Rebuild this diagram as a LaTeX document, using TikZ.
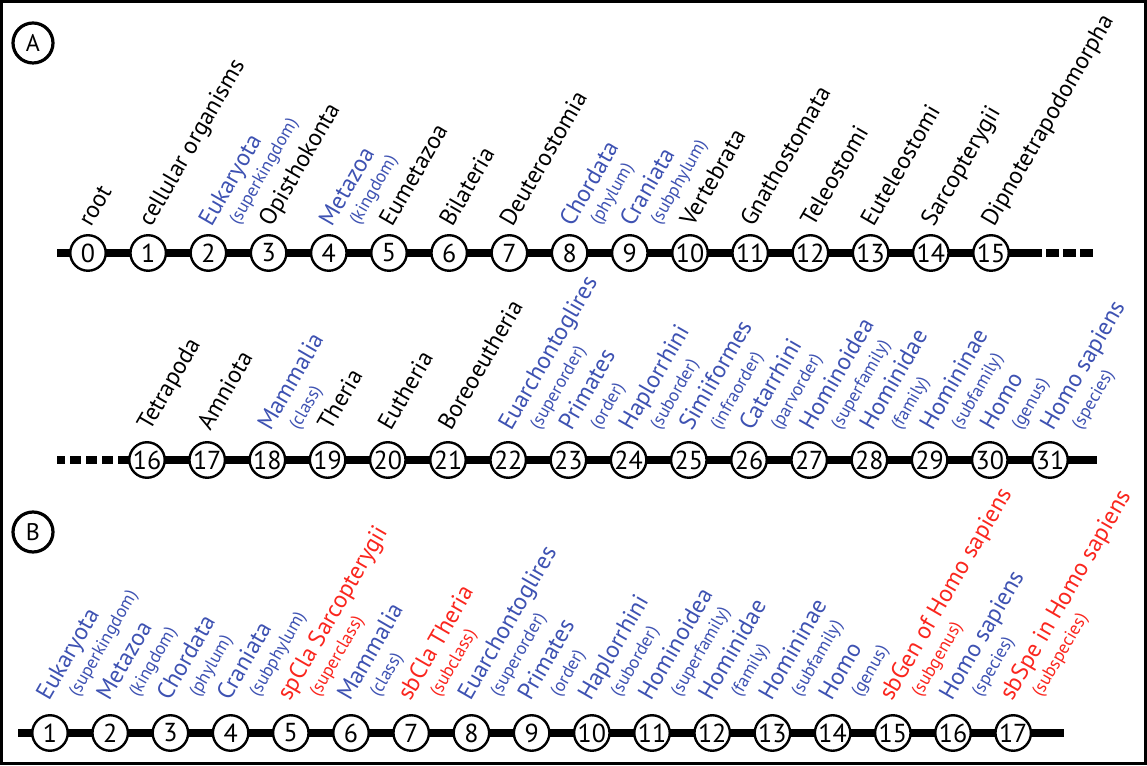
\documentclass[tikz,border=0pt]{standalone}
\usepackage{fontspec}
\setmainfont{PT Sans}
\usetikzlibrary{positioning}
\usepackage{xcolor}
\definecolor{taxblue}{RGB}{62,82,178}
\definecolor{newred}{RGB}{250,38,30}

\begin{document}
\begin{tikzpicture}[x=1pt, y=1pt, node distance=24.7pt,
  num/.style={draw, circle, line width=2.4pt, fill=white, minimum size=35.5pt, inner sep=0pt, outer sep=0pt, font=\fontsize{26pt}{26pt}\selectfont},
  panel/.style={draw, circle, line width=3.2pt, minimum size=40pt, inner sep=0pt, font=\fontsize{24pt}{24pt}\selectfont},
  lab/.style={anchor=base west, rotate=60, inner sep=0pt, font=\fontsize{24pt}{26pt}\selectfont},
  rank/.style={anchor=base west, rotate=60, inner sep=0pt, font=\fontsize{18pt}{20pt}\selectfont},
  labA/.style={xshift=3pt, yshift=25pt, lab}, rankA/.style={xshift=30pt, yshift=27pt, rank},
  labB/.style={xshift=3pt, yshift=28pt, lab}, rankB/.style={xshift=31pt, yshift=29pt, rank},
  labC/.style={xshift=-1pt, yshift=31pt, lab}, rankC/.style={xshift=28pt, yshift=35pt, rank},
  bar/.style={line width=8pt}]
\useasboundingbox (0,0) rectangle (1147,765);
\draw[line width=3pt] (1.5,1.5) rectangle (1145.5,763.5);

% panel A, first row
\node[panel] (pa) at (33,722) {A};
\node[num] (a0) at (88,512) {0};
\node[num,right=of a0] (a1) {1};
\node[num,right=of a1] (a2) {2};
\node[num,right=of a2] (a3) {3};
\node[num,right=of a3] (a4) {4};
\node[num,right=of a4] (a5) {5};
\node[num,right=of a5] (a6) {6};
\node[num,right=of a6] (a7) {7};
\node[num,right=of a7] (a8) {8};
\node[num,right=of a8] (a9) {9};
\node[num,right=of a9] (a10) {10};
\node[num,right=of a10] (a11) {11};
\node[num,right=of a11] (a12) {12};
\node[num,right=of a12] (a13) {13};
\node[num,right=of a13] (a14) {14};
\node[num,right=of a14] (a15) {15};
\coordinate (aStart) at (57,512);
\coordinate (aMid) at (1042,512);
\coordinate (aEnd) at (1093,512);
\draw[bar] (aStart) -- (a0) (a0) -- (a1) (a1) -- (a2) (a2) -- (a3) (a3) -- (a4) (a4) -- (a5) (a5) -- (a6) (a6) -- (a7) (a7) -- (a8) (a8) -- (a9) (a9) -- (a10) (a10) -- (a11) (a11) -- (a12) (a12) -- (a13) (a13) -- (a14) (a14) -- (a15) (a15) -- (aMid);
\draw[bar, dash pattern=on 13pt off 4pt, dash phase=13pt] (aMid) -- (aEnd);
\node[labA] at (a0) {root};
\node[labA] at (a1) {cellular organisms};
\node[labA, taxblue] at (a2) {Eukaryota};
\node[rankA, taxblue] at (a2) {(superkingdom)};
\node[labA] at (a3) {Opisthokonta};
\node[labA, taxblue] at (a4) {Metazoa};
\node[rankA, taxblue] at (a4) {(kingdom)};
\node[labA] at (a5) {Eumetazoa};
\node[labA] at (a6) {Bilateria};
\node[labA] at (a7) {Deuterostomia};
\node[labA, taxblue] at (a8) {Chordata};
\node[rankA, taxblue] at (a8) {(phylum)};
\node[labA, taxblue] at (a9) {Craniata};
\node[rankA, taxblue] at (a9) {(subphylum)};
\node[labA] at (a10) {Vertebrata};
\node[labA] at (a11) {Gnathostomata};
\node[labA] at (a12) {Teleostomi};
\node[labA] at (a13) {Euteleostomi};
\node[labA] at (a14) {Sarcopterygii};
\node[labA] at (a15) {Dipnotetrapodomorpha};

% panel A, second row
\node[num] (b16) at (147,305) {16};
\node[num,right=of b16] (b17) {17};
\node[num,right=of b17] (b18) {18};
\node[num,right=of b18] (b19) {19};
\node[num,right=of b19] (b20) {20};
\node[num,right=of b20] (b21) {21};
\node[num,right=of b21] (b22) {22};
\node[num,right=of b22] (b23) {23};
\node[num,right=of b23] (b24) {24};
\node[num,right=of b24] (b25) {25};
\node[num,right=of b25] (b26) {26};
\node[num,right=of b26] (b27) {27};
\node[num,right=of b27] (b28) {28};
\node[num,right=of b28] (b29) {29};
\node[num,right=of b29] (b30) {30};
\node[num,right=of b30] (b31) {31};
\coordinate (bStart) at (57,305);
\coordinate (bMid) at (118,305);
\coordinate (bEnd) at (1097,305);
\draw[bar, dash pattern=on 11pt off 5pt, dash phase=3pt] (bStart) -- (bMid);
\draw[bar] (bMid) -- (b16) (b16) -- (b17) (b17) -- (b18) (b18) -- (b19) (b19) -- (b20) (b20) -- (b21) (b21) -- (b22) (b22) -- (b23) (b23) -- (b24) (b24) -- (b25) (b25) -- (b26) (b26) -- (b27) (b27) -- (b28) (b28) -- (b29) (b29) -- (b30) (b30) -- (b31) (b31) -- (bEnd);
\node[labB] at (b16) {Tetrapoda};
\node[labB] at (b17) {Amniota};
\node[labB, taxblue] at (b18) {Mammalia};
\node[rankB, taxblue] at (b18) {(class)};
\node[labB] at (b19) {Theria};
\node[labB] at (b20) {Eutheria};
\node[labB] at (b21) {Boreoeutheria};
\node[labB, taxblue] at (b22) {Euarchontoglires};
\node[rankB, taxblue] at (b22) {(superorder)};
\node[labB, taxblue] at (b23) {Primates};
\node[rankB, taxblue] at (b23) {(order)};
\node[labB, taxblue] at (b24) {Haplorrhini};
\node[rankB, taxblue] at (b24) {(suborder)};
\node[labB, taxblue] at (b25) {Simiiformes};
\node[rankB, taxblue] at (b25) {(infraorder)};
\node[labB, taxblue] at (b26) {Catarrhini};
\node[rankB, taxblue] at (b26) {(parvorder)};
\node[labB, taxblue] at (b27) {Hominoidea};
\node[rankB, taxblue] at (b27) {(superfamily)};
\node[labB, taxblue] at (b28) {Hominidae};
\node[rankB, taxblue] at (b28) {(family)};
\node[labB, taxblue] at (b29) {Homininae};
\node[rankB, taxblue] at (b29) {(subfamily)};
\node[labB, taxblue] at (b30) {Homo};
\node[rankB, taxblue] at (b30) {(genus)};
\node[labB, taxblue] at (b31) {Homo sapiens};
\node[rankB, taxblue] at (b31) {(species)};

% panel B
\node[panel] (pb) at (33,233) {B};
\node[num] (c1) at (50,32) {1};
\node[num,right=of c1] (c2) {2};
\node[num,right=of c2] (c3) {3};
\node[num,right=of c3] (c4) {4};
\node[num,right=of c4] (c5) {5};
\node[num,right=of c5] (c6) {6};
\node[num,right=of c6] (c7) {7};
\node[num,right=of c7] (c8) {8};
\node[num,right=of c8] (c9) {9};
\node[num,right=of c9] (c10) {10};
\node[num,right=of c10] (c11) {11};
\node[num,right=of c11] (c12) {12};
\node[num,right=of c12] (c13) {13};
\node[num,right=of c13] (c14) {14};
\node[num,right=of c14] (c15) {15};
\node[num,right=of c15] (c16) {16};
\node[num,right=of c16] (c17) {17};
\coordinate (cStart) at (18,32);
\coordinate (cEnd) at (1064,32);
\draw[bar] (cStart) -- (c1) (c1) -- (c2) (c2) -- (c3) (c3) -- (c4) (c4) -- (c5) (c5) -- (c6) (c6) -- (c7) (c7) -- (c8) (c8) -- (c9) (c9) -- (c10) (c10) -- (c11) (c11) -- (c12) (c12) -- (c13) (c13) -- (c14) (c14) -- (c15) (c15) -- (c16) (c16) -- (c17) (c17) -- (cEnd);
\node[labC, taxblue] at (c1) {Eukaryota};
\node[rankC, taxblue] at (c1) {(superkingdom)};
\node[labC, taxblue] at (c2) {Metazoa};
\node[rankC, taxblue] at (c2) {(kingdom)};
\node[labC, taxblue] at (c3) {Chordata};
\node[rankC, taxblue] at (c3) {(phylum)};
\node[labC, taxblue] at (c4) {Craniata};
\node[rankC, taxblue] at (c4) {(subphylum)};
\node[labC, newred] at (c5) {spCla Sarcopterygii};
\node[rankC, newred] at (c5) {(superclass)};
\node[labC, taxblue] at (c6) {Mammalia};
\node[rankC, taxblue] at (c6) {(class)};
\node[labC, newred] at (c7) {sbCla Theria};
\node[rankC, newred] at (c7) {(subclass)};
\node[labC, taxblue] at (c8) {Euarchontoglires};
\node[rankC, taxblue] at (c8) {(superorder)};
\node[labC, taxblue] at (c9) {Primates};
\node[rankC, taxblue] at (c9) {(order)};
\node[labC, taxblue] at (c10) {Haplorrhini};
\node[rankC, taxblue] at (c10) {(suborder)};
\node[labC, taxblue] at (c11) {Hominoidea};
\node[rankC, taxblue] at (c11) {(superfamily)};
\node[labC, taxblue] at (c12) {Hominidae};
\node[rankC, taxblue] at (c12) {(family)};
\node[labC, taxblue] at (c13) {Homininae};
\node[rankC, taxblue] at (c13) {(subfamily)};
\node[labC, taxblue] at (c14) {Homo};
\node[rankC, taxblue] at (c14) {(genus)};
\node[labC, newred] at (c15) {sbGen of Homo sapiens};
\node[rankC, newred] at (c15) {(subgenus)};
\node[labC, taxblue] at (c16) {Homo sapiens};
\node[rankC, taxblue] at (c16) {(species)};
\node[labC, newred] at (c17) {sbSpe in Homo sapiens};
\node[rankC, newred] at (c17) {(subspecies)};
\end{tikzpicture}
\end{document}
